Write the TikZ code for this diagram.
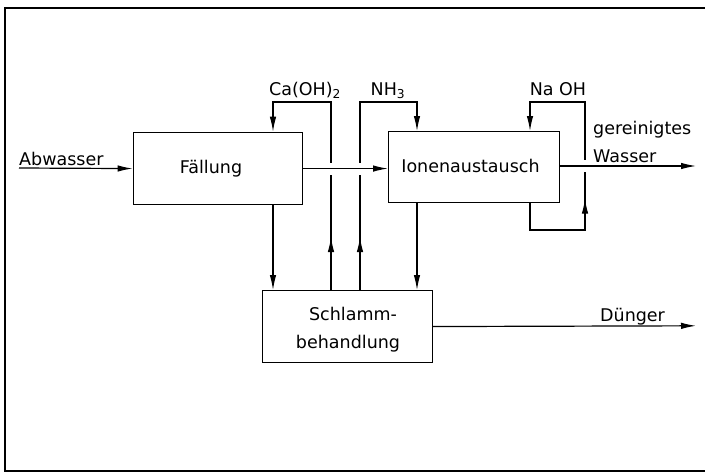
\documentclass[tikz,border=0pt]{standalone}
\usepackage{fontspec}
\setmainfont{DejaVu Sans}
\usetikzlibrary{arrows.meta,decorations.markings,calc}
\begin{document}
\begin{tikzpicture}[x=1pt,y=-1pt,
  box/.style={draw, line width=1.4pt, anchor=north west, inner sep=0pt},
  flow/.style={line width=1.2pt},
  arr/.style={flow, -{Latex[length=15pt,width=6.5pt]}},
  midup/.style={postaction={decorate, decoration={markings,
      mark=at position #1 with {\arrow{Latex[length=15pt,width=6.5pt]}}}}},
  lbl/.style={font=\fontsize{17.5}{21}\selectfont, inner sep=0pt},
  gap/.style={fill=white, draw=none}
]
\useasboundingbox (0,0) rectangle (705,474);
% frame
\draw[line width=2pt] (705,7.5) -- (4.5,7.5) -- (4.5,471) -- (705,471);

% boxes
\node[box, minimum width=169.4pt, minimum height=72.3pt] (fall) at (132.6,131.7) {};
\node[box, minimum width=171pt, minimum height=71pt] (ion) at (388,131) {};
\node[box, minimum width=170pt, minimum height=71.7pt] (schl) at (261.7,290) {};

% coordinates
\coordinate (abw) at (19,168);
\coordinate (caL) at (273,102);
\coordinate (caR) at (331,102);
\coordinate (nhL) at (360,102);
\coordinate (nhR) at (417,102);
\coordinate (naL) at (530,102);
\coordinate (naR) at (585,102);
\coordinate (naB) at (585,230);
\coordinate (naBL) at (530,230);
\coordinate (gw) at (696,166);
\coordinate (dg) at (696,325.8);

% vertical loops
\draw[arr, midup=53pt] (caR |- schl.north) -- (caR) -- (caL) -- (caL |- fall.north);
\draw[arr, midup=53pt] (nhL |- schl.north) -- (nhL) -- (nhR) -- (nhR |- ion.north);
\draw[arr, midup=113pt] (naBL |- ion.south) -- (naBL) -- (naB) -- (naR) -- (naL) -- (naL |- ion.north);
\draw[arr] (caL |- fall.south) -- (caL |- schl.north);
\draw[arr] (nhR |- ion.south) -- (nhR |- schl.north);

% crossing gaps
\fill[gap] ($(caR |- fall.east)+(-3,-6)$) rectangle +(6,12);
\fill[gap] ($(nhL |- fall.east)+(-3,-6)$) rectangle +(6,12);
\fill[gap] ($(naR |- gw)+(-3,-6)$) rectangle +(6,12);

% horizontal flows
\draw[arr] (abw) -- (fall.west);
\draw[arr] (fall.east) -- (fall.east -| ion.west);
\draw[arr] (ion.east |- gw) -- (gw);
\draw[arr] (schl.east) -- (dg);

% texts
\node[lbl, anchor=base west] (tabw) at (19,165.5) {Abwasser};
\node[lbl, anchor=base] (tfall) at (211,173) {Fällung};
\node[lbl, anchor=base] (tion) at (470.5,172) {Ionenaustausch};
\node[lbl, anchor=base] (tschl1) at (353,320) {Schlamm-};
\node[lbl, anchor=base] (tschl2) at (348,348) {behandlung};
\node[lbl, anchor=base] (tca) at (305,95) {Ca(OH)\textsubscript{2}};
\node[lbl, anchor=base] (tnh) at (388,95) {NH\textsubscript{3}};
\node[lbl, anchor=base] (tna) at (558,95) {Na OH};
\node[lbl, anchor=base west] (tgw1) at (593,134) {gereinigtes};
\node[lbl, anchor=base west] (tgw2) at (593,162) {Wasser};
\node[lbl, anchor=base west] (tdg) at (600,321) {Dünger};
\end{tikzpicture}
\end{document}
